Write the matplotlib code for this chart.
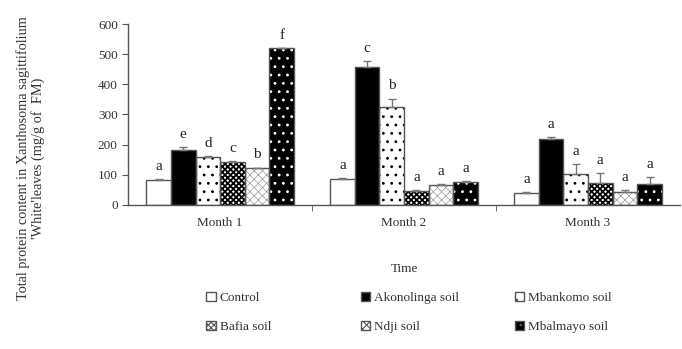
import numpy as np
import matplotlib.pyplot as plt
from matplotlib.patches import Patch

plt.rcParams['font.family'] = ['Liberation Serif', 'DejaVu Serif']
plt.rcParams['hatch.linewidth'] = 0.8

months = ["Month 1", "Month 2", "Month 3"]
treatments = ["Control", "Akonolinga soil", "Mbankomo soil",
              "Bafia soil", "Ndji soil", "Mbalmayo soil"]

# protein content (mg/g of FM), one list per treatment across months
control    = [83, 86, 40]
akonolinga = [182, 456, 217]
mbankomo   = [159, 324, 103]
bafia      = [141, 47, 74]
ndji       = [121, 66, 44]
mbalmayo   = [519, 76, 70]

err_control    = [3, 3, 3]
err_akonolinga = [9, 22, 9]
err_mbankomo   = [4, 29, 32]
err_bafia      = [6, 3, 31]
err_ndji       = [3, 3, 4]
err_mbalmayo   = [3, 3, 22]

letters = [["a", "a", "a"], ["e", "c", "a"], ["d", "b", "a"],
           ["c", "a", "a"], ["b", "a", "a"], ["f", "a", "a"]]

values = [control, akonolinga, mbankomo, bafia, ndji, mbalmayo]
errors = [err_control, err_akonolinga, err_mbankomo, err_bafia, err_ndji, err_mbalmayo]

# (facecolor, hatch, hatch colour, hatch width)
styles = [("white", None, "#444444", 0.8),
          ("black", None, "black", 0.8),
          ("white", "..", "black", 0.8),
          ("white", "xxxxxx", "black", 1.3),
          ("white", "xxxx", "#999999", 0.5),
          ("black", "..", "white", 0.8)]

fig = plt.figure(figsize=(6.82, 3.49), dpi=100)
ax = fig.add_axes([0.188, 0.413, 0.809, 0.518])

x = np.arange(len(months))
w = 0.134
grey = "#555555"
handles = []
for i, (vals, errs) in enumerate(zip(values, errors)):
    fc, hatch, hc, hlw = styles[i]
    pos = x + (i - 2.5) * w
    bars = ax.bar(pos, vals, w, color=fc, hatch=hatch, edgecolor=hc,
                  linewidth=0, zorder=2)
    for b in bars:
        if hasattr(b, "set_hatch_linewidth"):
            b.set_hatch_linewidth(hlw)
    # outline drawn separately so the hatch colour can differ
    ax.bar(pos, vals, w, fill=False, edgecolor=grey, linewidth=1.0, zorder=3)
    ax.errorbar(pos, vals, yerr=[np.zeros(len(vals)), errs], fmt="none",
                ecolor="#777777", elinewidth=1.0, capsize=3, capthick=1.0, zorder=4)
    for p, v, e, t in zip(pos, vals, errs, letters[i]):
        ax.text(p, v + e + 20, t, ha="center", va="bottom", fontsize=11, color="#222222")
    handles.append(Patch(facecolor=fc, hatch=hatch, edgecolor=grey, linewidth=1.0,
                         label=treatments[i]))

ax.set_xlim(-0.5, 2.5)
ax.set_ylim(0, 600)
ax.set_yticks(range(0, 601, 100))
ax.set_xticks(x)
ax.set_xticklabels(months)
ax.set_xticks([0.5, 1.5], minor=True)
ax.tick_params(axis="x", which="major", length=0, pad=9, labelsize=9.5, colors="#333333")
ax.tick_params(axis="x", which="minor", length=4, color=grey)
ax.tick_params(axis="y", length=4, color=grey, labelsize=9.5, colors="#333333")
for s in ["top", "right"]:
    ax.spines[s].set_visible(False)
for s in ["left", "bottom"]:
    ax.spines[s].set_color(grey)
    ax.spines[s].set_linewidth(1.0)

ax.set_xlabel("Time", fontsize=9.5, color="#333333", labelpad=24)
fig.text(0.045, 0.547,
         "Total protein content in Xanthosoma sagittifolium\n'White'leaves (mg/g of  FM)",
         rotation=90, ha="center", va="center", fontsize=10.3, color="#333333",
         linespacing=1.1)

# one legend per column so the columns sit at fixed places
col_x = [0.293, 0.52, 0.745]
for c in range(3):
    leg = fig.legend([handles[c], handles[c + 3]], [treatments[c], treatments[c + 3]],
                     loc="center left", bbox_to_anchor=(col_x[c], 0.105), ncol=1,
                     frameon=False, fontsize=9.5, handlelength=0.7, handleheight=0.7,
                     handletextpad=0.3, labelspacing=1.25, borderpad=0)
    for t in leg.get_texts():
        t.set_color("#333333")

fig.savefig("out.png", dpi=100)
